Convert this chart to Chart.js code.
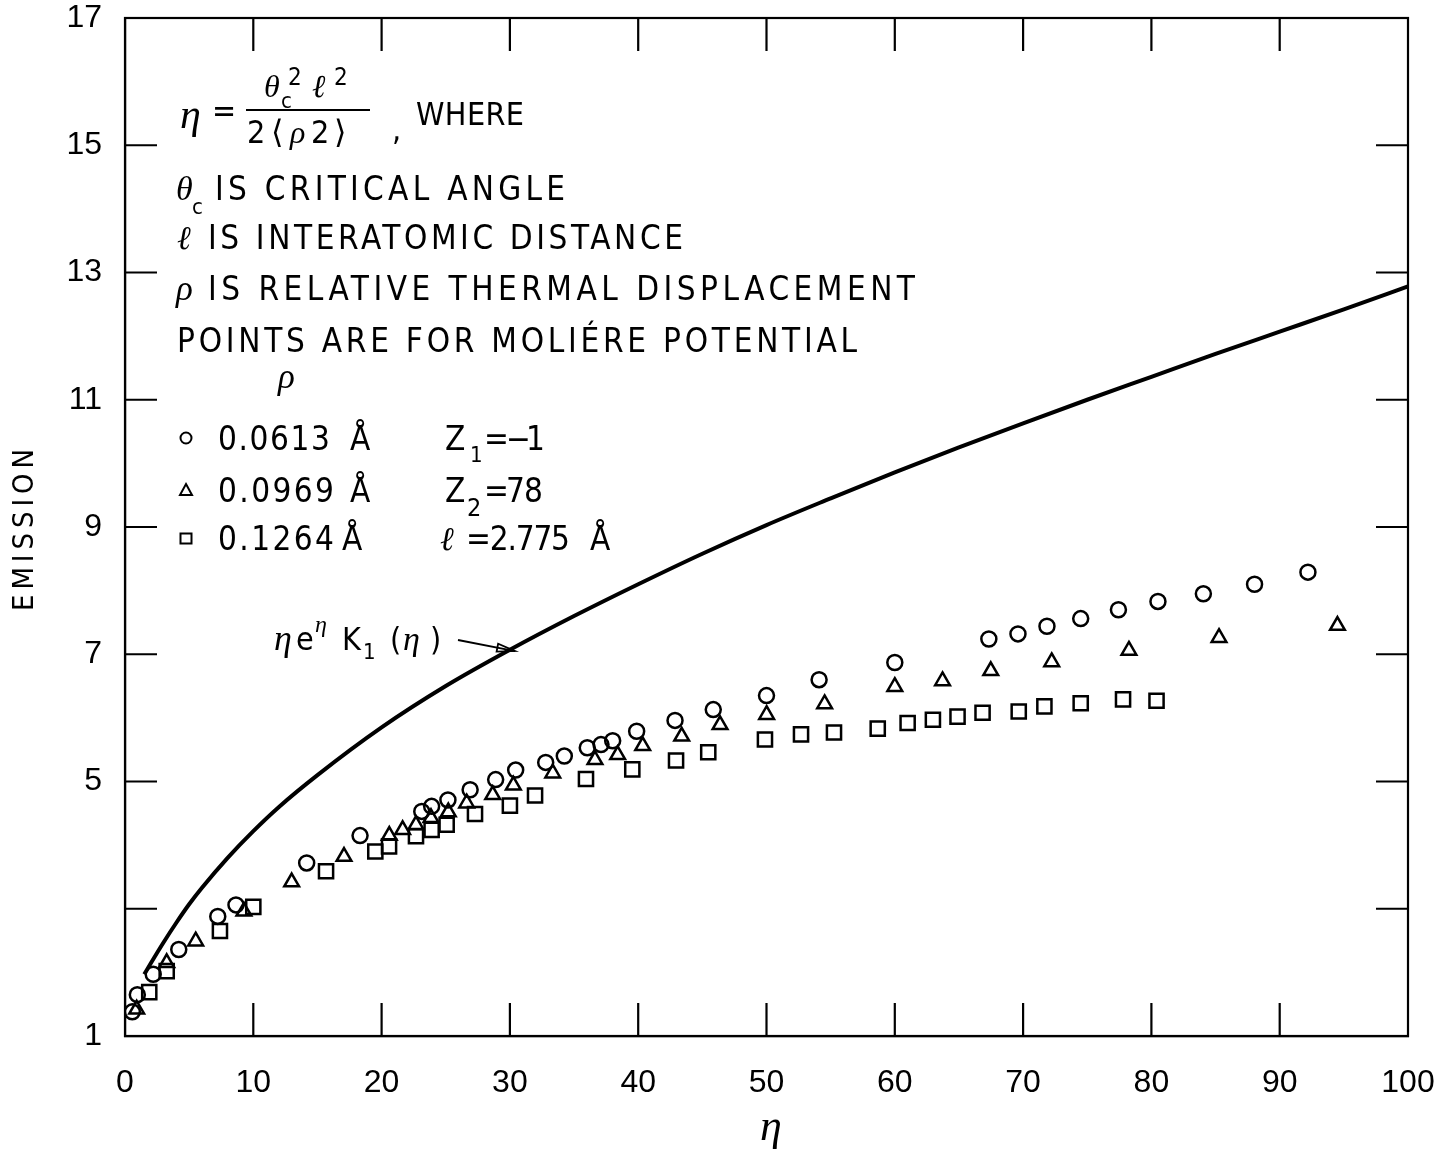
<!DOCTYPE html>
<html>
<head>
<meta charset="utf-8">
<script src="https://cdn.jsdelivr.net/npm/chart.js@4.4.1/dist/chart.umd.min.js"></script>
<style>
  html, body { margin: 0; padding: 0; background: #fff; }
</style>
</head>
<body>
<canvas id="grafico" width="1448" height="1156"></canvas>
<script>
// eta * e^eta * K1(eta) curve
const curveEta = [1.5, 2, 3, 4, 5, 6, 8, 10, 12, 15, 20, 25, 30, 35, 40, 45, 50, 55, 60, 65, 70, 75, 80, 85, 90, 95, 100];
const curveVal = [1.97, 2.14, 2.47, 2.78, 3.07, 3.33, 3.8, 4.22, 4.6, 5.1, 5.85, 6.5, 7.07, 7.6, 8.1, 8.58, 9.03, 9.45, 9.86, 10.25, 10.63, 11.0, 11.36, 11.72, 12.07, 12.42, 12.78];

// rho = 0.0613 A (circles)
const circleEta = [0.57, 0.96, 2.2, 4.19, 7.23, 8.65, 14.16, 18.32, 23.13, 23.9, 25.17, 26.9, 28.89, 30.45, 32.79, 34.24, 36.03, 37.1, 38.01, 39.88, 42.87, 45.85, 50.0, 54.1, 60.0, 67.33, 69.6, 71.86, 74.49, 77.43, 80.51, 84.05, 88.04, 92.2];
const circleVal = [1.38, 1.65, 1.97, 2.36, 2.88, 3.06, 3.72, 4.15, 4.53, 4.61, 4.71, 4.87, 5.03, 5.18, 5.30, 5.40, 5.53, 5.58, 5.64, 5.79, 5.96, 6.13, 6.35, 6.60, 6.87, 7.24, 7.32, 7.44, 7.56, 7.70, 7.83, 7.95, 8.10, 8.29];

// rho = 0.0969 A (triangles)
const triEta = [0.91, 3.25, 5.51, 9.27, 12.99, 17.07, 20.6, 21.64, 22.68, 23.85, 25.2, 26.63, 28.66, 30.27, 33.34, 36.63, 38.4, 40.35, 43.39, 46.38, 50.01, 54.53, 60.0, 63.72, 67.48, 72.23, 78.25, 85.27, 94.5];
const triVal = [1.42, 2.15, 2.49, 2.96, 3.42, 3.82, 4.15, 4.24, 4.32, 4.43, 4.52, 4.66, 4.79, 4.94, 5.13, 5.34, 5.42, 5.56, 5.71, 5.89, 6.05, 6.22, 6.49, 6.58, 6.74, 6.88, 7.06, 7.26, 7.45];

// rho = 0.1264 A (squares)
const sqEta = [1.89, 3.25, 7.40, 10.0, 15.67, 19.51, 20.58, 22.68, 23.9, 25.07, 27.28, 30.0, 31.96, 35.93, 39.54, 42.95, 45.46, 49.88, 52.69, 55.26, 58.67, 61.0, 62.97, 64.89, 66.84, 69.66, 71.66, 74.49, 77.79, 80.4];
const sqVal = [1.69, 2.02, 2.65, 3.03, 3.59, 3.90, 3.98, 4.14, 4.24, 4.32, 4.49, 4.62, 4.78, 5.04, 5.19, 5.33, 5.46, 5.66, 5.74, 5.77, 5.83, 5.92, 5.97, 6.02, 6.08, 6.10, 6.18, 6.23, 6.29, 6.27];

const xTicks = [0, 10, 20, 30, 40, 50, 60, 70, 80, 90, 100];
const yTicks = [1, 3, 5, 7, 9, 11, 13, 15, 17];
const yTickLabels = ['1', '', '5', '7', '9', '11', '13', '15', '17'];

const SANS = '"Liberation Sans", Arial, sans-serif';
const NARROW = '"Liberation Sans Narrow", "DejaVu Sans Condensed", "Liberation Sans", sans-serif';
const SERIF = '"Liberation Serif", "DejaVu Serif", serif';

function pontos(xs, ys) {
    return xs.map((v, i) => ({ x: v, y: ys[i] }));
}

// texto esticado até uma largura alvo
function textoAjustado(ctx, str, x, y, largura, tam) {
    ctx.font = tam + 'px ' + NARROW;
    ctx.letterSpacing = '0px';
    const w = ctx.measureText(str).width;
    const sp = (largura - w) / Math.max(1, str.length - 1);
    ctx.letterSpacing = sp + 'px';
    ctx.fillText(str, x, y);
    ctx.letterSpacing = '0px';
}

function texto(ctx, str, x, y, tam, fonte, italico) {
    ctx.font = (italico ? 'italic ' : '') + tam + 'px ' + (fonte || NARROW);
    ctx.fillText(str, x, y);
}

const molduraPlugin = {
    id: 'moldura',
    afterDraw(chart) {
        const { ctx, chartArea: { left, right, top, bottom }, scales: { x, y } } = chart;
        ctx.save();
        ctx.strokeStyle = '#000';
        ctx.lineWidth = 2.2;
        ctx.strokeRect(left, top, right - left, bottom - top);
        ctx.beginPath();
        xTicks.slice(1, -1).forEach(v => {
            const px = x.getPixelForValue(v);
            ctx.moveTo(px, top); ctx.lineTo(px, top + 33);
            ctx.moveTo(px, bottom); ctx.lineTo(px, bottom - 33);
        });
        yTicks.slice(1, -1).forEach(v => {
            const py = y.getPixelForValue(v);
            ctx.moveTo(left, py); ctx.lineTo(left + 32, py);
            ctx.moveTo(right, py); ctx.lineTo(right - 32, py);
        });
        ctx.stroke();

        ctx.fillStyle = '#000';
        ctx.textBaseline = 'alphabetic';
        ctx.textAlign = 'left';

        // formula
        texto(ctx, 'η', 180, 128, 42, SERIF, true);
        texto(ctx, '=', 212, 122, 32);
        ctx.lineWidth = 2;
        ctx.beginPath(); ctx.moveTo(246, 110); ctx.lineTo(370, 110); ctx.stroke();
        texto(ctx, 'θ', 264, 97, 32, SERIF, true);
        texto(ctx, 'c', 281, 108, 22);
        texto(ctx, '2', 288, 85, 24);
        texto(ctx, 'ℓ', 312, 97, 32, SERIF, true);
        texto(ctx, '2', 334, 85, 24);
        texto(ctx, '2', 247, 143, 32);
        texto(ctx, '⟨', 271, 143, 32, SERIF);
        texto(ctx, 'ρ', 290, 143, 32, SERIF, true);
        texto(ctx, '2', 311, 143, 32);
        texto(ctx, '⟩', 334, 143, 32, SERIF);
        texto(ctx, ',', 392, 140, 32);
        textoAjustado(ctx, 'WHERE', 416, 125, 108, 32);

        // definitions
        texto(ctx, 'θ', 176, 200, 34, SERIF, true);
        texto(ctx, 'c', 192, 214, 22);
        textoAjustado(ctx, 'IS CRITICAL ANGLE', 215, 200, 350, 33);
        texto(ctx, 'ℓ', 177, 249, 33, SERIF, true);
        textoAjustado(ctx, 'IS INTERATOMIC DISTANCE', 208, 249, 475, 33);
        texto(ctx, 'ρ', 176, 300, 35, SERIF, true);
        textoAjustado(ctx, 'IS RELATIVE THERMAL DISPLACEMENT', 208, 300, 707, 33);
        textoAjustado(ctx, 'POINTS ARE FOR MOLIÉRE POTENTIAL', 177, 352, 680, 33);

        // key
        texto(ctx, 'ρ', 278, 388, 35, SERIF, true);
        ctx.lineWidth = 2;
        ctx.beginPath(); ctx.arc(186, 438, 5.5, 0, Math.PI * 2); ctx.stroke();
        ctx.beginPath(); ctx.moveTo(186, 484); ctx.lineTo(192, 495); ctx.lineTo(180, 495); ctx.closePath(); ctx.stroke();
        ctx.strokeRect(180.5, 533.5, 11, 10);

        textoAjustado(ctx, '0.0613', 218, 450, 112, 33);
        texto(ctx, 'Å', 350, 450, 33);
        texto(ctx, 'Z', 445, 450, 33);
        texto(ctx, '1', 470, 462, 22);
        texto(ctx, '=', 484, 450, 33);
        texto(ctx, '−', 506, 450, 33);
        texto(ctx, '1', 526, 450, 33);

        textoAjustado(ctx, '0.0969', 218, 502, 116, 33);
        texto(ctx, 'Å', 350, 502, 33);
        texto(ctx, 'Z', 445, 502, 33);
        texto(ctx, '2', 467, 516, 25);
        texto(ctx, '=', 484, 502, 33);
        texto(ctx, '7', 506, 502, 33);
        texto(ctx, '8', 524, 502, 33);

        textoAjustado(ctx, '0.1264', 218, 550, 116, 33);
        texto(ctx, 'Å', 342, 550, 33);
        texto(ctx, 'ℓ', 440, 550, 33, SERIF, true);
        textoAjustado(ctx, '=2.775', 466, 550, 104, 33);
        texto(ctx, 'Å', 590, 550, 33);

        // curve label and arrow
        texto(ctx, 'η', 274, 650, 36, SERIF, true);
        texto(ctx, 'e', 296, 650, 32);
        texto(ctx, 'η', 315, 632, 24, SERIF, true);
        texto(ctx, 'K', 342, 650, 32);
        texto(ctx, '1', 363, 659, 22);
        texto(ctx, '(', 390, 650, 32);
        texto(ctx, 'η', 403, 650, 34, SERIF, true);
        texto(ctx, ')', 430, 650, 32);
        const tx = x.getPixelForValue(30.4), ty = y.getPixelForValue(7.05);
        ctx.lineWidth = 1.8;
        ctx.beginPath(); ctx.moveTo(458, 640); ctx.lineTo(tx, ty); ctx.stroke();
        const ang = Math.atan2(ty - 640, tx - 458);
        ctx.beginPath();
        ctx.moveTo(tx, ty);
        ctx.lineTo(tx - 18 * Math.cos(ang) + 4 * Math.sin(ang), ty - 18 * Math.sin(ang) - 4 * Math.cos(ang));
        ctx.lineTo(tx - 18 * Math.cos(ang) - 4 * Math.sin(ang), ty - 18 * Math.sin(ang) + 4 * Math.cos(ang));
        ctx.closePath();
        ctx.stroke();

        // axis titles
        texto(ctx, 'η', 760, 1140, 44, SERIF, true);
        ctx.save();
        ctx.translate(33, 611);
        ctx.rotate(-Math.PI / 2);
        textoAjustado(ctx, 'EMISSION', 0, 0, 162, 29);
        ctx.restore();

        ctx.restore();
    }
};

const ctx = document.getElementById('grafico').getContext('2d');

const chart = new Chart(ctx, {
    type: 'scatter',
    data: {
        datasets: [
            {
                label: 'ηe^η K1(η)',
                data: pontos(curveEta, curveVal),
                showLine: true,
                borderColor: '#000',
                borderWidth: 4,
                pointRadius: 0,
                cubicInterpolationMode: 'monotone',
                order: 4
            },
            {
                label: '0.0613 Å',
                data: pontos(circleEta, circleVal),
                pointStyle: 'circle',
                pointRadius: 7.5,
                borderColor: '#000',
                backgroundColor: 'rgba(255,255,255,0)',
                borderWidth: 2.5
            },
            {
                label: '0.0969 Å',
                data: pontos(triEta, triVal),
                pointStyle: 'triangle',
                pointRadius: 8.5,
                borderColor: '#000',
                backgroundColor: 'rgba(255,255,255,0)',
                borderWidth: 2.5
            },
            {
                label: '0.1264 Å',
                data: pontos(sqEta, sqVal),
                pointStyle: 'rect',
                pointRadius: 10,
                borderColor: '#000',
                backgroundColor: 'rgba(255,255,255,0)',
                borderWidth: 2.5
            }
        ]
    },
    options: {
        responsive: false,
        animation: false,
        layout: { padding: { top: 18, right: 40, left: 0, bottom: 0 } },
        plugins: {
            legend: { display: false },
            tooltip: { enabled: false }
        },
        scales: {
            x: {
                type: 'linear',
                min: 0,
                max: 100,
                afterBuildTicks: s => { s.ticks = xTicks.map(v => ({ value: v })); },
                afterFit: s => { s.height = 120; s.paddingLeft = 0; s.paddingRight = 0; },
                grid: { display: false, drawTicks: false },
                border: { display: true, color: '#000', width: 2.2 },
                ticks: {
                    color: '#000',
                    padding: 28,
                    maxRotation: 0,
                    autoSkip: false,
                    font: { family: SANS, size: 32 }
                }
            },
            y: {
                type: 'linear',
                min: 1,
                max: 17,
                afterBuildTicks: s => { s.ticks = yTicks.map(v => ({ value: v })); },
                afterFit: s => { s.width = 125; s.paddingTop = 0; s.paddingBottom = 0; },
                grid: { display: false, drawTicks: false },
                border: { display: true, color: '#000', width: 2.2 },
                ticks: {
                    color: '#000',
                    padding: 23,
                    autoSkip: false,
                    font: { family: SANS, size: 32 },
                    callback: v => yTickLabels[yTicks.indexOf(v)]
                }
            }
        }
    },
    plugins: [molduraPlugin]
});
</script>
</body>
</html>
